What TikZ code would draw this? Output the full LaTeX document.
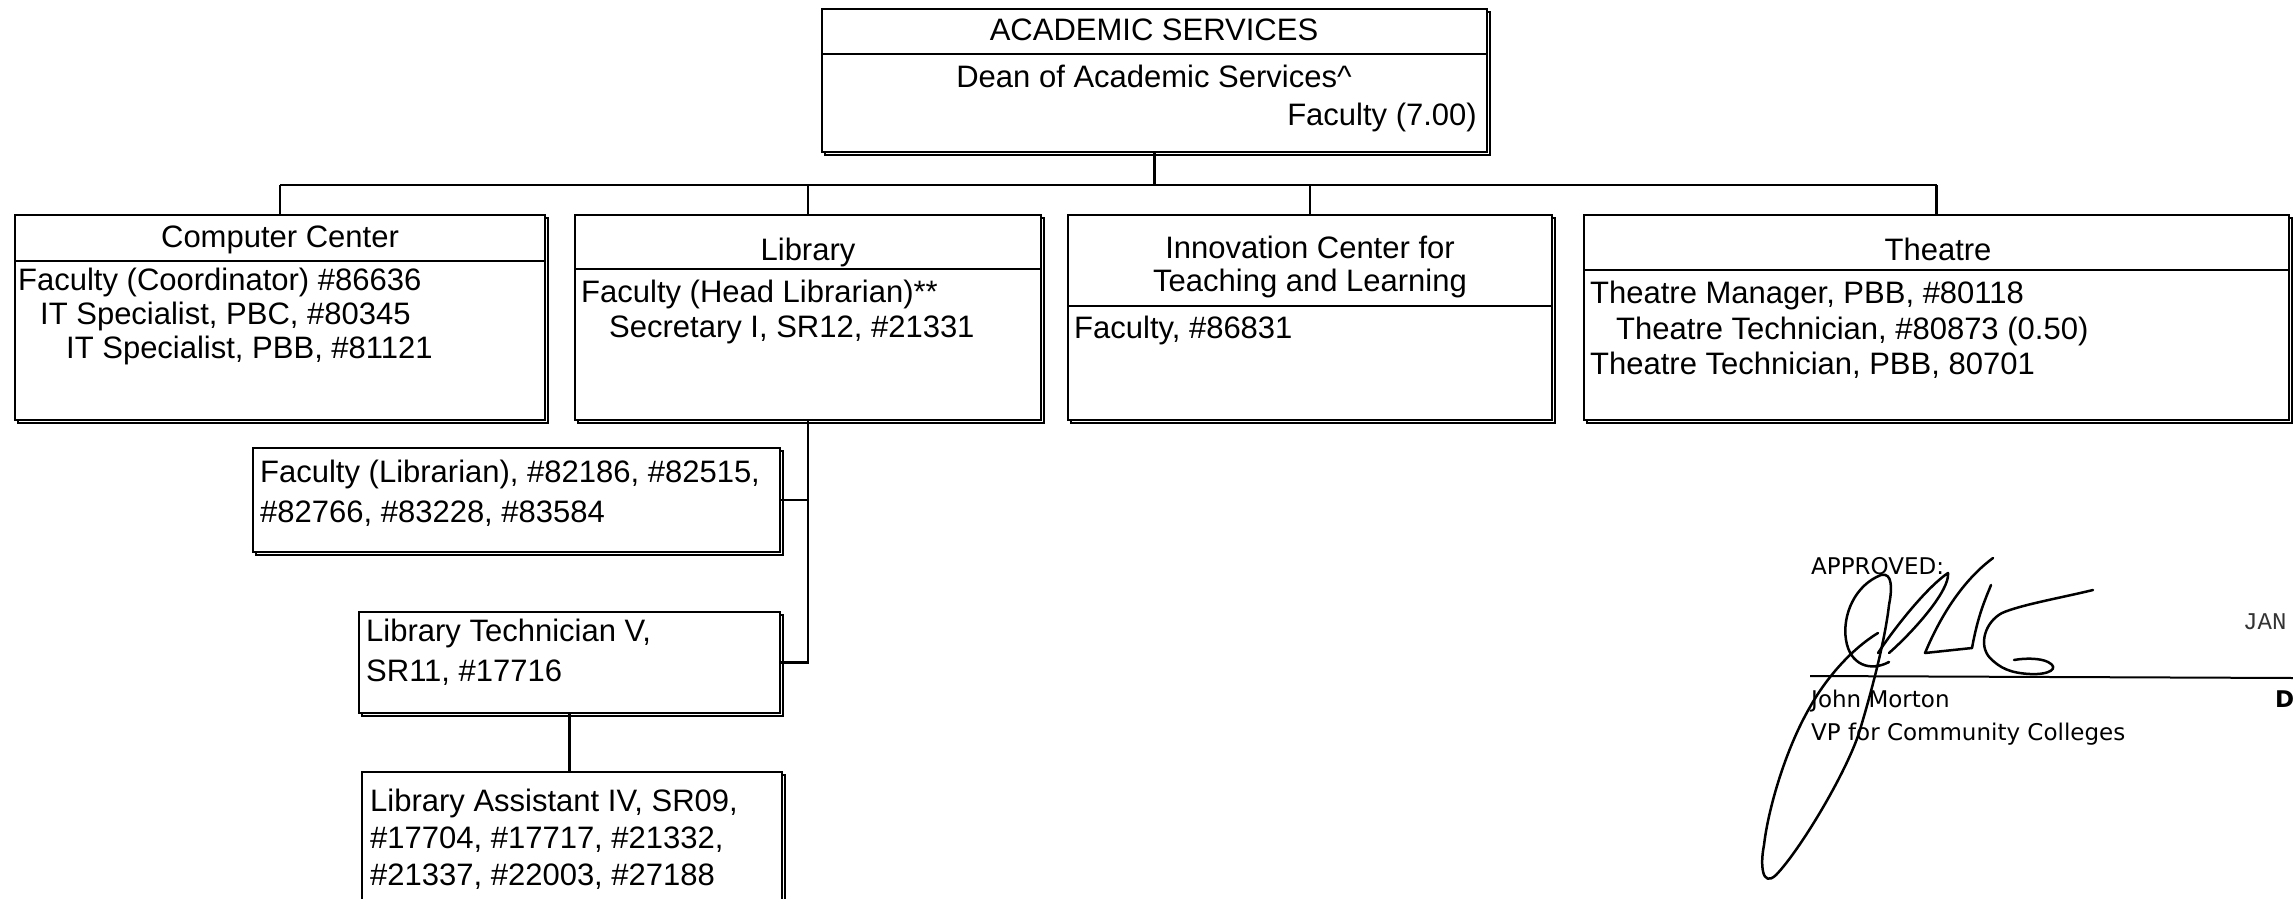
\documentclass[tikz,border=0pt]{standalone}
\usepackage{fontspec}
\setmainfont{Liberation Sans}
\newfontfamily\sigfont{DejaVu Sans}
\newfontfamily\stampfont{Liberation Mono}
\usetikzlibrary{shadows}
\begin{document}
\begin{tikzpicture}[x=1pt,y=-1pt,
  box/.style={draw, line width=2.2pt, fill=white, inner sep=0pt, outer sep=0pt, anchor=north west,
    copy shadow={shadow xshift=3pt, shadow yshift=-3pt}},
  txt/.style={inner sep=0pt, font=\fontsize{31}{35}\selectfont},
  lt/.style={txt, anchor=mid west},
  ct/.style={txt, anchor=mid},
  rt/.style={txt, anchor=mid east},
  conn/.style={line width=2.2pt},
  divline/.style={line width=2.2pt},
  sig/.style={line width=2.5pt, line cap=round, line join=round},
  sigtxt/.style={inner sep=0pt, anchor=mid west, font=\sigfont\fontsize{23}{27}\selectfont}
]
\useasboundingbox (0,0) rectangle (2293,899);
\clip (0,0) rectangle (2293,899);
\fill[white] (0,0) rectangle (2293,899);

% top box
\node[box, minimum width=665pt, minimum height=143pt] (acad) at (822,9) {};
\draw[divline] (822,54) -- (1487,54);
\node[ct] (acadt) at (1154,38) {ACADEMIC SERVICES};
\node[ct] (dean) at (1154,85) {Dean of Academic Services\textasciicircum};
\node[rt] (fac7) at (1477,123) {Faculty (7.00)};

% Computer Center
\node[box, minimum width=530pt, minimum height=205pt] (cc) at (15,215) {};
\draw[divline] (15,261) -- (545,261);
\node[ct] (cct) at (280,245) {Computer Center};
\node[lt] (cc1) at (18,288) {Faculty (Coordinator) \#86636};
\node[lt] (cc2) at (40,322) {IT Specialist, PBC, \#80345};
\node[lt] (cc3) at (66,356) {IT Specialist, PBB, \#81121};

% Library
\node[box, minimum width=466pt, minimum height=205pt] (lib) at (575,215) {};
\draw[divline] (575,269) -- (1041,269);
\node[ct] (libt) at (808,258) {Library};
\node[lt] (lib1) at (581,300) {Faculty (Head Librarian)**};
\node[lt] (lib2) at (609,335) {Secretary I, SR12, \#21331};

% Innovation Center
\node[box, minimum width=484pt, minimum height=205pt] (inn) at (1068,215) {};
\draw[divline] (1068,306) -- (1552,306);
\node[ct] (innt1) at (1310,256) {Innovation Center for};
\node[ct] (innt2) at (1310,289) {Teaching and Learning};
\node[lt] (inn1) at (1074,336) {Faculty, \#86831};

% Theatre
\node[box, minimum width=705pt, minimum height=205pt] (th) at (1584,215) {};
\draw[divline] (1584,270) -- (2289,270);
\node[ct] (tht) at (1938,258) {Theatre};
\node[lt] (th1) at (1590,301) {Theatre Manager, PBB, \#80118};
\node[lt] (th2) at (1616,337) {Theatre Technician, \#80873 (0.50)};
\node[lt] (th3) at (1590,372) {Theatre Technician, PBB, 80701};

% Library sub-boxes
\node[box, minimum width=527pt, minimum height=104pt] (fl) at (253,448) {};
\node[lt] (fl1) at (260,480) {Faculty (Librarian), \#82186, \#82515,};
\node[lt] (fl2) at (260,520) {\#82766, \#83228, \#83584};

\node[box, minimum width=421pt, minimum height=101pt] (ltech) at (359,612) {};
\node[lt] (lt1) at (366,639) {Library Technician V,};
\node[lt] (lt2) at (366,679) {SR11, \#17716};

\node[box, minimum width=420pt, minimum height=140pt] (la) at (362,772) {};
\node[lt] (la1) at (370,809) {Library Assistant IV, SR09,};
\node[lt] (la2) at (370,846) {\#17704, \#17717, \#21332,};
\node[lt] (la3) at (370,883) {\#21337, \#22003, \#27188};

% connectors
\coordinate (bus) at (0,185);
\draw[conn] (acad.south) -- (acad.south |- bus);
\draw[conn] (cc.north |- bus) -- (th.north |- bus);
\draw[conn] (cc.north |- bus) -- (cc.north);
\draw[conn] (lib.north |- bus) -- (lib.north);
\draw[conn] (inn.north |- bus) -- (inn.north);
\draw[conn] (th.north |- bus) -- (th.north);
\draw[conn] (lib.south) |- (fl.east);
\draw[conn] (lib.south) |- (ltech.east);
\draw[conn] (ltech.south) -- (ltech.south |- la.north);

% approval block
\node[sigtxt] (appr) at (1811,572) {APPROVED:};
\coordinate (sl1) at (1810,676);
\coordinate (sl2) at (2293,678);
\draw[line width=2pt] (sl1) -- (sl2);
\node[sigtxt] (jm) at (1811,705) {John Morton};
\node[sigtxt] (vp) at (1811,738) {VP for Community Colleges};
\node[inner sep=0pt, anchor=mid west, font=\stampfont\fontsize{24}{28}\selectfont, text=black!80] (jan) at (2243,627) {JAN};
\node[sigtxt, font=\sigfont\bfseries\fontsize{23}{27}\selectfont] (dd) at (2275,705) {D};

% signature
\draw[sig] (1889,662) .. controls (1870,672) and (1850,665) .. (1846,640)
  .. controls (1842,615) and (1855,585) .. (1881,575)
  .. controls (1893,572) and (1892,590) .. (1889,605)
  .. controls (1885,640) and (1872,690) .. (1859,733)
  .. controls (1845,775) and (1800,850) .. (1776,875)
  .. controls (1762,888) and (1760,865) .. (1764,845)
  .. controls (1768,810) and (1785,750) .. (1810,707)
  .. controls (1825,680) and (1850,650) .. (1878,633);
\draw[sig] (1878,653) .. controls (1900,620) and (1930,585) .. (1948,573)
  .. controls (1950,590) and (1915,630) .. (1889,653);
\draw[sig] (1993,558) .. controls (1970,575) and (1945,605) .. (1925,653)
  -- (1972,648);
\draw[sig] (1991,585) .. controls (1985,600) and (1978,615) .. (1972,648);
\draw[sig] (2093,590) .. controls (2060,598) and (2020,605) .. (2002,613)
  .. controls (1985,622) and (1978,645) .. (1990,658)
  .. controls (2000,668) and (2010,673) .. (2030,674)
  .. controls (2050,675) and (2060,668) .. (2048,662)
  .. controls (2040,658) and (2025,658) .. (2014,660);
\end{tikzpicture}
\end{document}
